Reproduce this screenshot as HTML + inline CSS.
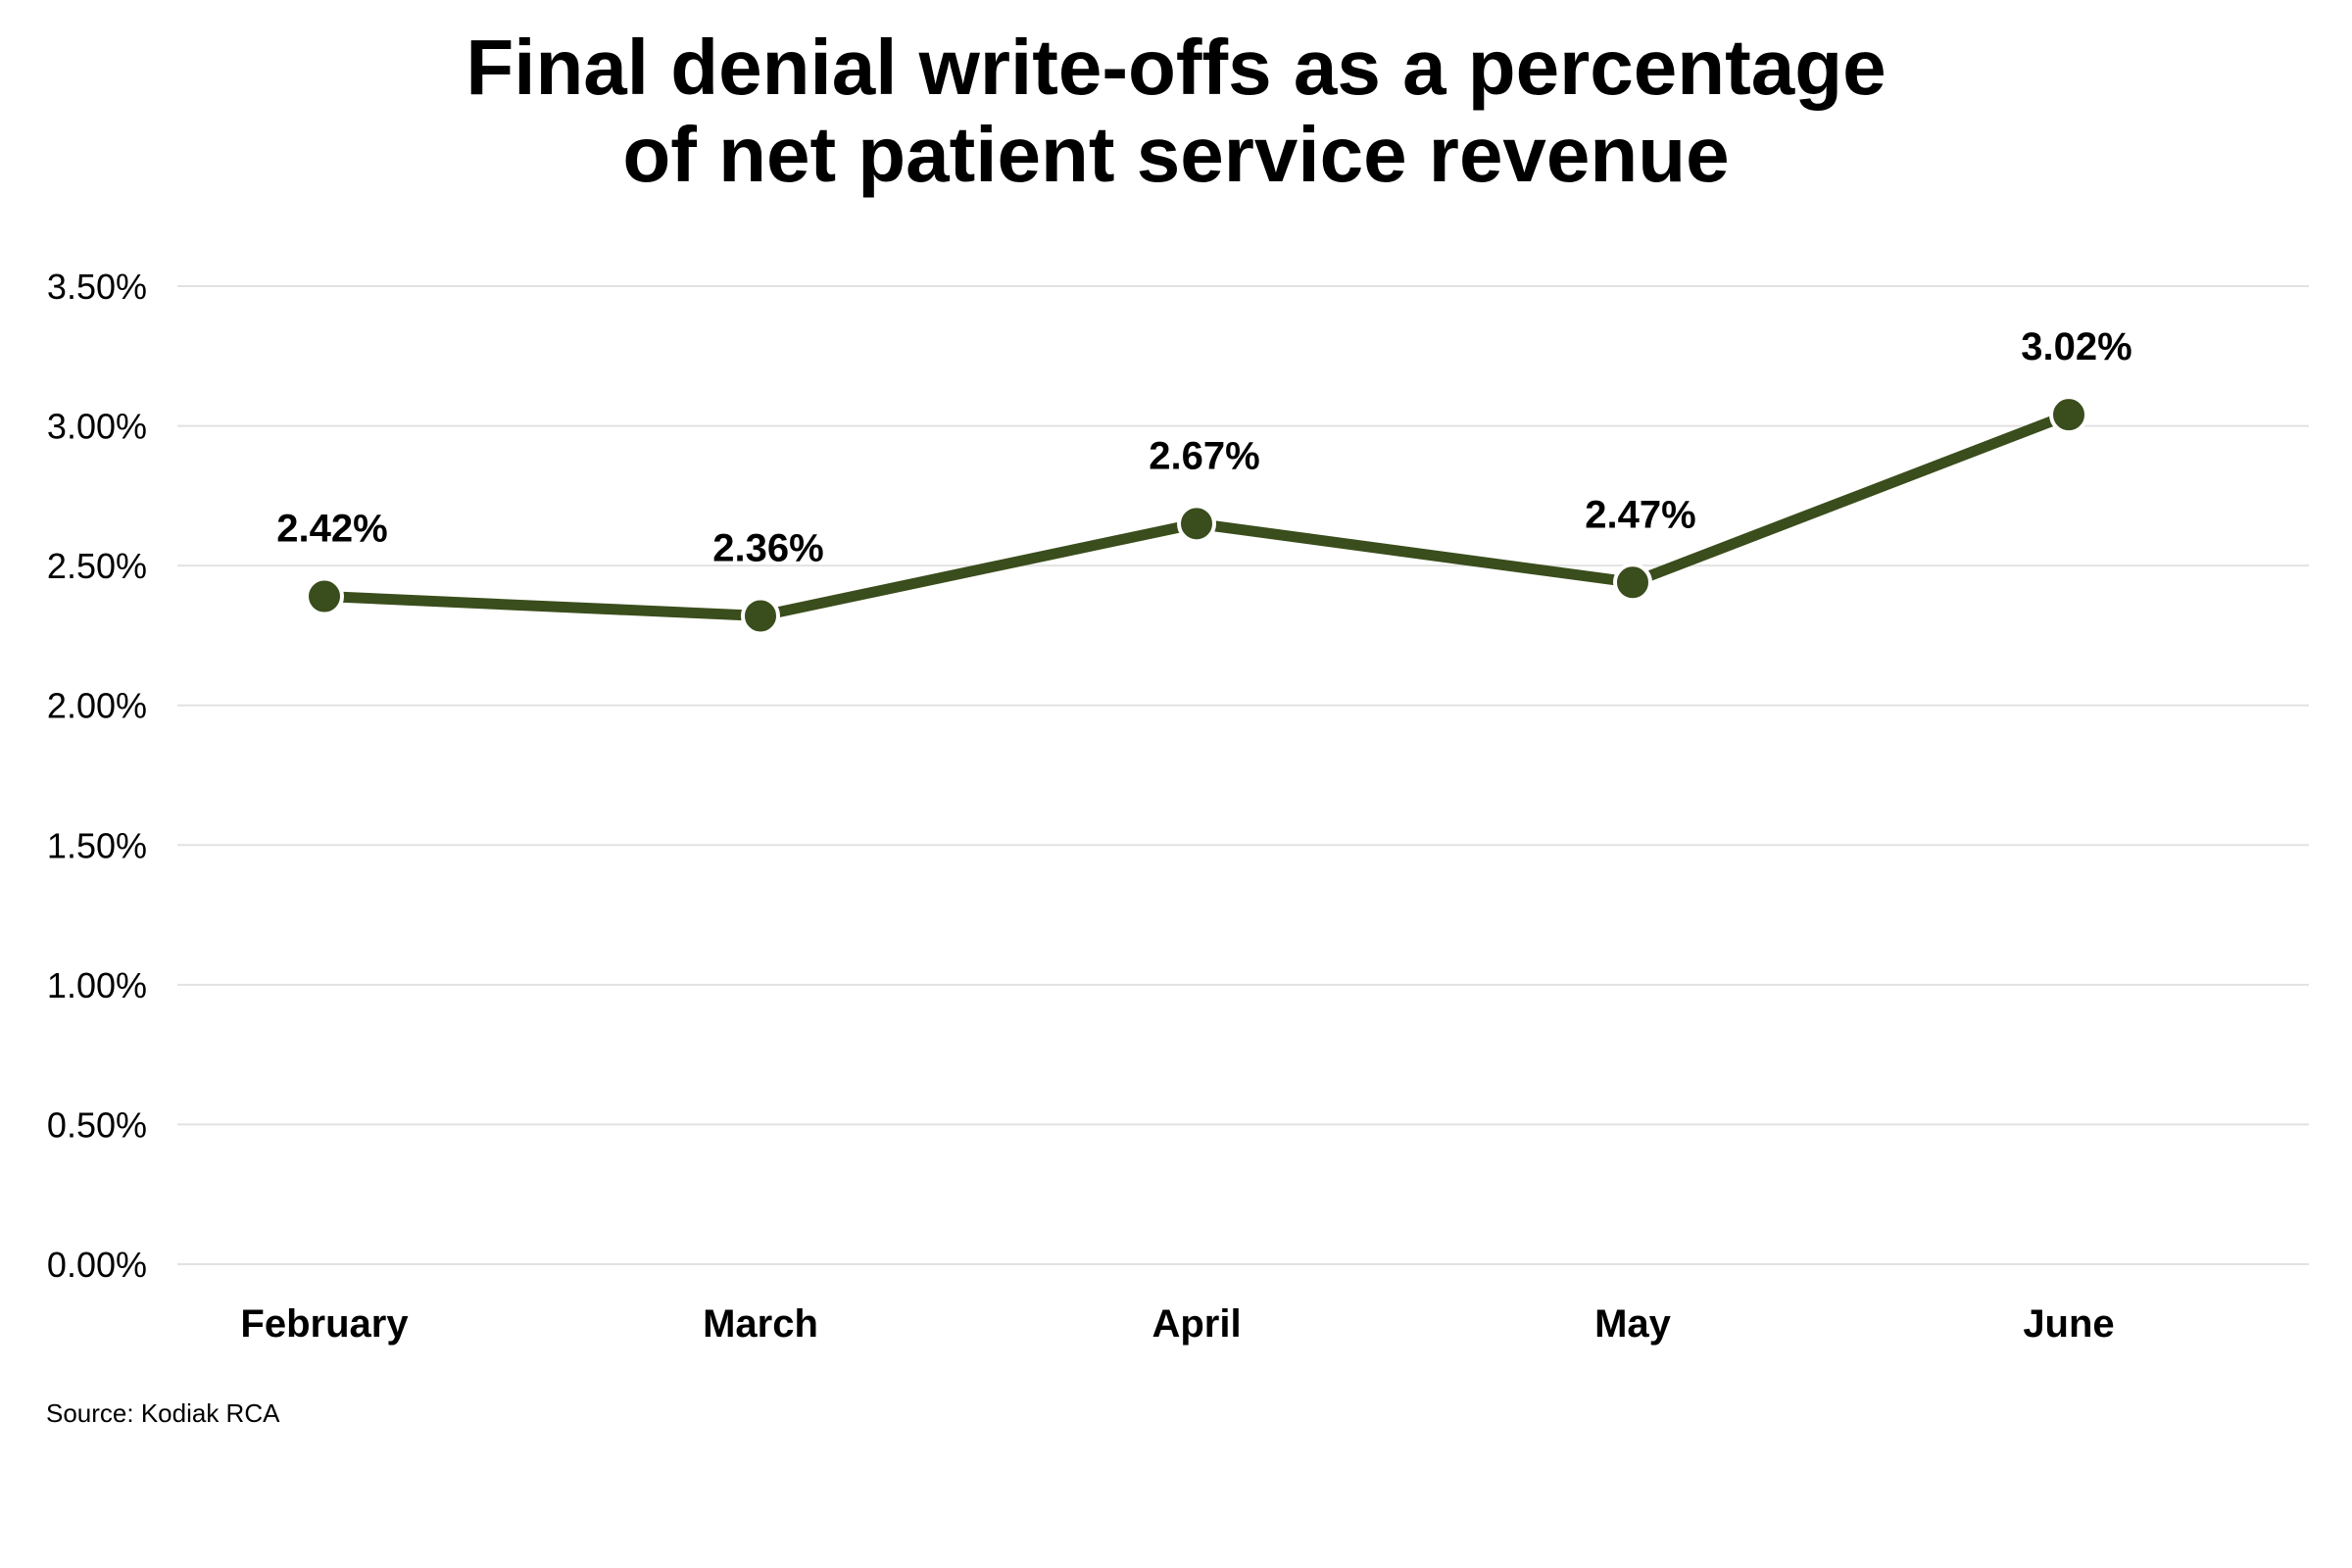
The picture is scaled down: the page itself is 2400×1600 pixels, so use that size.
<!DOCTYPE html>
<html><head><meta charset="utf-8"><style>
html,body{margin:0;padding:0;background:#fff;}
svg{display:block;font-family:"Liberation Sans",sans-serif;}
</style></head><body>
<svg id="chart" width="2400" height="1600" viewBox="0 0 2400 1600">
<text x="1200" y="96" text-anchor="middle" font-size="80" font-weight="bold" fill="#000">Final denial write-offs as a percentage</text>
<text x="1200" y="185" text-anchor="middle" font-size="80" font-weight="bold" fill="#000">of net patient service revenue</text>
<g id="grid"></g><g id="yticks"></g><g id="xticks"></g><g id="series"></g><g id="labels"></g>
<text x="47" y="1451" font-size="26" fill="#000">Source: Kodiak RCA</text>
</svg>
<script>
const categories = ["February","March","April","May","June"];
const values = [2.39, 2.32, 2.65, 2.44, 3.04];
const valueLabels = ["2.42%","2.36%","2.67%","2.47%","3.02%"];
const yTicks = [0,0.5,1,1.5,2,2.5,3,3.5];
const yTickLabels = ["0.00%","0.50%","1.00%","1.50%","2.00%","2.50%","3.00%","3.50%"];

const NS="http://www.w3.org/2000/svg";
const y = v => 1290 - v*(1290-292)/3.5;
const x = i => 331 + i*445;
function mk(tag, attrs, parent){const e=document.createElementNS(NS,tag);for(const k in attrs)e.setAttribute(k,attrs[k]);document.getElementById(parent).appendChild(e);return e;}

yTicks.forEach((t,i)=>{
  const l=mk('line',{x1:181,x2:2356,y1:y(t),y2:y(t),stroke:'#e2e2e2','stroke-width':2},'grid');
  
  
  const tx=mk('text',{x:150,y:y(t)+13,'text-anchor':'end','font-size':36,fill:'#000'},'yticks');
  tx.textContent=yTickLabels[i];
  
  
});
categories.forEach((c,i)=>{
  const tx=mk('text',{x:x(i),y:1364,'text-anchor':'middle','font-size':40,'font-weight':'bold',fill:'#000'},'xticks');
  tx.textContent=c;
  
  
});
const pts=values.map((v,i)=>x(i)+','+y(v)).join(' ');
const pl=mk('polyline',{points:pts,fill:'none',stroke:'#3a4d1c','stroke-width':11,'stroke-linejoin':'round'},'series');


values.forEach((v,i)=>{
  const c=mk('circle',{cx:x(i),cy:y(v),r:18,fill:'#3a4d1c',stroke:'#fff','stroke-width':4},'series');
  
  
  const t=mk('text',{x:x(i)+8,y:y(v)-56,'text-anchor':'middle','font-size':40,'font-weight':'bold',fill:'#000'},'labels');
  t.textContent=valueLabels[i];
  
  
});
</script>
</body></html>
